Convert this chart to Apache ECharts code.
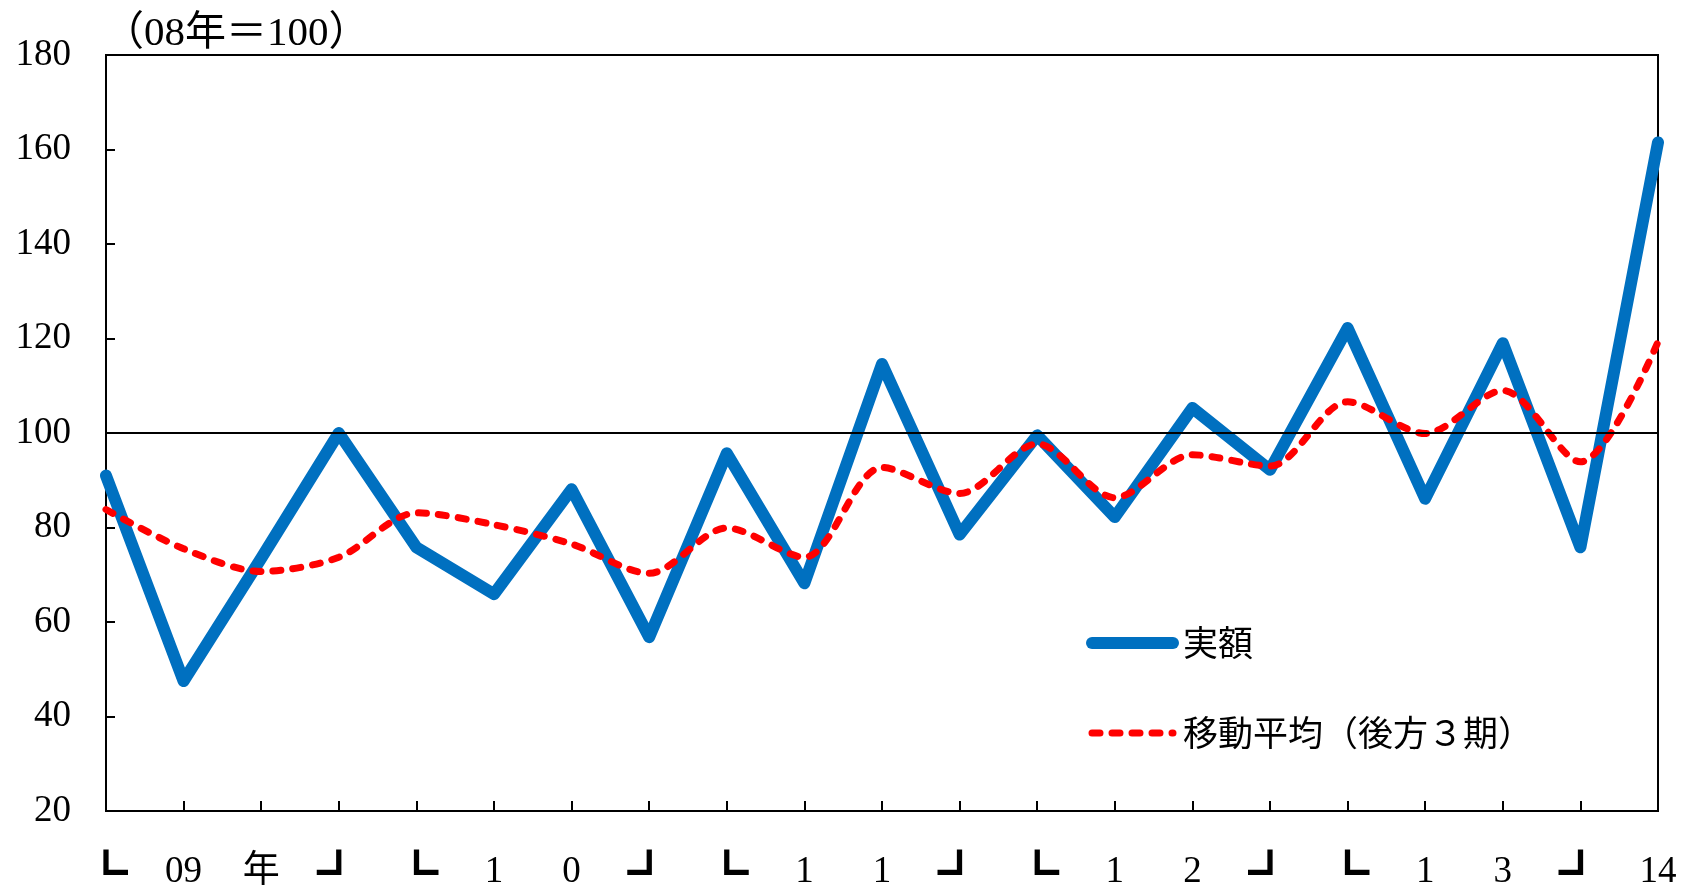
<!DOCTYPE html>
<html>
<head>
<meta charset="utf-8">
<script src="https://cdn.jsdelivr.net/npm/echarts@6/dist/echarts.min.js"></script>
<style>html,body{margin:0;padding:0;background:#fff}#c{width:1694px;height:889px}</style>
</head>
<body>
<div id="c"></div>
<script>
const categories = ['09Q1','09Q2','09Q3','09Q4','10Q1','10Q2','10Q3','10Q4','11Q1','11Q2','11Q3','11Q4','12Q1','12Q2','12Q3','12Q4','13Q1','13Q2','13Q3','13Q4','14Q1'];
const tickLabels = ['┗','09','年','┛','┗','1','0','┛','┗','1','1','┛','┗','1','2','┛','┗','1','3','┛','14'];
const actual = [91, 47.5, 73.5, 100, 75.8, 65.9, 88.1, 56.8, 95.7, 68.2, 114.6, 78.5, 99.5, 82.2, 105.3, 92.2, 122.2, 86.1, 119, 75.8, 161.5];
const movingAvg = [83.8, 75.5, 70.7, 73.7, 83.1, 80.6, 76.5, 70.3, 79.9, 73.7, 92.7, 87.2, 97.7, 86.3, 95.4, 93.0, 106.6, 99.9, 109.0, 93.9, 119.3];
const yTicks = {min: 20, max: 180, interval: 20};
const baseLine = 100;

const serif = "'Liberation Serif','Noto Sans CJK JP',serif";
const chart = echarts.init(document.getElementById('c'), null, {renderer: 'canvas'});
chart.setOption({
  animation: false,
  backgroundColor: '#fff',
  title: {
    text: '（08年＝100）',
    left: 98, top: 7,
    textStyle: {fontFamily: serif, fontSize: 41, fontWeight: 'normal', color: '#000', lineHeight: 44}
  },
  grid: {left: 106, right: 36, top: 55, bottom: 78, show: true, borderColor: '#000', borderWidth: 2, backgroundColor: 'transparent', containLabel: false, outerBoundsMode: 'none'},
  legend: {
    orient: 'vertical', left: 1081, top: 618, itemWidth: 81, itemHeight: 14, itemGap: 50,
    formatter: function (name) { return '{t|' + name + '}'; },
    textStyle: {
      fontFamily: "'Noto Sans CJK JP',sans-serif", fontSize: 35, color: '#000', lineHeight: 40,
      rich: {t: {fontFamily: "'Noto Sans CJK JP',sans-serif", fontSize: 35, color: '#000', lineHeight: 40, padding: [0, 0, 0, 5]}}
    },
    data: [
      {name: '実額', itemStyle: {opacity: 0}, lineStyle: {width: 12, cap: 'round', color: '#0070C0'}},
      {name: '移動平均（後方３期）', itemStyle: {opacity: 0}, lineStyle: {width: 7, type: [8, 12], cap: 'round', color: '#FF0000'}}
    ]
  },
  xAxis: {
    type: 'category', data: categories, boundaryGap: false,
    axisLine: {lineStyle: {color: '#000', width: 2}},
    axisTick: {inside: true, length: 10, interval: 0, lineStyle: {color: '#000', width: 2}},
    axisLabel: {
      interval: 0, margin: 36,
      formatter: function (v, i) {
        const t = tickLabels[i];
        return (t === '┗' || t === '┛') ? '{b|' + t + '}' : '{d|' + t + '}';
      },
      rich: {
        b: {fontFamily: "'Noto Sans CJK JP',sans-serif", fontSize: 44, lineHeight: 50, color: '#000'},
        d: {fontFamily: serif, fontSize: 37, lineHeight: 50, color: '#000'}
      }
    },
    splitLine: {show: false}
  },
  yAxis: {
    type: 'value', min: yTicks.min, max: yTicks.max, interval: yTicks.interval,
    axisLine: {show: true, lineStyle: {color: '#000', width: 2}},
    axisTick: {show: true, inside: true, length: 9, lineStyle: {color: '#000', width: 2}},
    axisLabel: {fontFamily: serif, fontSize: 37, color: '#000', margin: 35},
    splitLine: {show: false}
  },
  series: [
    {
      name: 'base', type: 'line', data: [], z: 1, silent: true,
      markLine: {
        silent: true, symbol: 'none', label: {show: false},
        lineStyle: {color: '#000', width: 2, type: 'solid'},
        data: [{yAxis: baseLine}]
      }
    },
    {
      name: '実額', type: 'line', data: actual, z: 3, symbol: 'none', clip: false,
      lineStyle: {color: '#0070C0', width: 12, cap: 'round', join: 'round'},
      itemStyle: {color: '#0070C0'}
    },
    {
      name: '移動平均（後方３期）', type: 'line', data: movingAvg, z: 4, symbol: 'none', smooth: 0.3,
      lineStyle: {color: '#FF0000', width: 7, type: [8, 12], cap: 'round'},
      itemStyle: {color: '#FF0000'}
    }
  ]
});
</script>
</body>
</html>
